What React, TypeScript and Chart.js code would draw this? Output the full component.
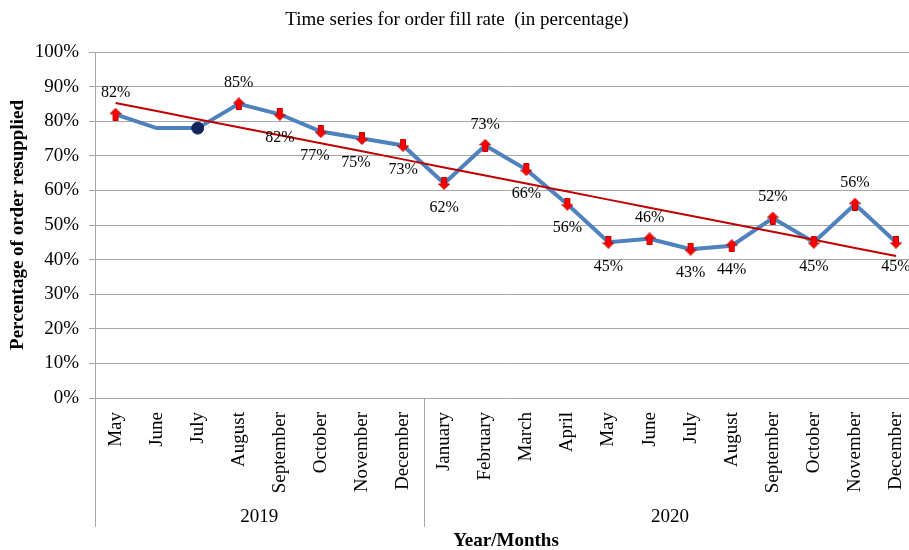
import { useEffect, useRef } from "react";
import { Chart, registerables } from "chart.js";
Chart.register(...registerables);

const months = [
  "May", "June", "July", "August", "September", "October", "November", "December",
  "January", "February", "March", "April", "May", "June", "July", "August",
  "September", "October", "November", "December",
];
const years = ["2019", "2020"];
const yearSpans = [8, 12];
const fillRate = [82, 78, 78, 85, 82, 77, 75, 73, 62, 73, 66, 56, 45, 46, 43, 44, 52, 45, 56, 45];
const markers = [
  "up", "none", "dot", "up", "down", "down", "down", "down", "down", "up",
  "down", "down", "down", "up", "down", "up", "up", "down", "up", "down",
];
const labelPos = [
  "above", "", "", "above", "below", "belowLeft", "belowLeft", "below", "below", "above",
  "below", "below", "below", "above", "below", "below", "above", "below", "above", "below",
];
const yTitle = "Percentage of order resupplied";
const xTitle = "Year/Months";
const chartTitle = "Time series for order fill rate  (in percentage)";

const FONT = "'Liberation Serif', 'Times New Roman', serif";
const GRID = "#a6a6a6";

function linearTrend(values: number[]): number[] {
  const n = values.length;
  const mx = (n - 1) / 2;
  const my = values.reduce((a, b) => a + b, 0) / n;
  let sxy = 0;
  let sxx = 0;
  values.forEach((v, i) => {
    sxy += (i - mx) * (v - my);
    sxx += (i - mx) * (i - mx);
  });
  const slope = sxy / sxx;
  return values.map((_, i) => my + slope * (i - mx));
}

function makeArrow(): HTMLCanvasElement {
  const c = document.createElement("canvas");
  c.width = 12;
  c.height = 13;
  const g = c.getContext("2d")!;
  g.beginPath();
  g.moveTo(6, 0.5);
  g.lineTo(11.5, 6);
  g.lineTo(8.5, 6);
  g.lineTo(8.5, 12.5);
  g.lineTo(3.5, 12.5);
  g.lineTo(3.5, 6);
  g.lineTo(0.5, 6);
  g.closePath();
  g.fillStyle = "#ff0000";
  g.fill();
  g.strokeStyle = "#c00000";
  g.lineWidth = 1;
  g.stroke();
  return c;
}

export default function App() {
  const ref = useRef<HTMLCanvasElement>(null);
  useEffect(() => {
    document.body.style.margin = "0";
    const arrow = makeArrow();
    const trend = linearTrend(fillRate);

    const overlay = {
      id: "overlay",
      afterDatasetsDraw(chart: any) {
        const ctx = chart.ctx;
        const meta = chart.getDatasetMeta(0);
        ctx.save();
        ctx.fillStyle = "#000";
        ctx.font = `16px ${FONT}`;
        ctx.textAlign = "center";
        ctx.textBaseline = "middle";
        meta.data.forEach((pt: any, i: number) => {
          const pos = labelPos[i];
          if (!pos) return;
          let dx = 0;
          const dy = pos === "above" ? -21 : 24;
          if (pos === "belowLeft") dx = -6;
          ctx.fillText(fillRate[i] + "%", pt.x + dx, pt.y + dy);
        });
        ctx.restore();
      },
      afterDraw(chart: any) {
        const ctx = chart.ctx;
        const xs = chart.scales.x;
        const area = chart.chartArea;
        ctx.save();
        ctx.fillStyle = "#000";
        ctx.font = `19px ${FONT}`;
        ctx.textAlign = "center";
        ctx.textBaseline = "middle";
        ctx.fillText(chartTitle, 457, 20);
        ctx.strokeStyle = GRID;
        ctx.lineWidth = 1;
        let start = 0;
        const bounds: number[] = [area.left];
        yearSpans.forEach((span, k) => {
          const end = start + span - 1;
          if (k < yearSpans.length - 1) {
            bounds.push((xs.getPixelForValue(end) + xs.getPixelForValue(end + 1)) / 2);
          }
          const cx = (xs.getPixelForValue(start) + xs.getPixelForValue(end)) / 2;
          ctx.fillText(years[k], cx, 517);
          start += span;
        });
        bounds.forEach((bx) => {
          const x = Math.round(bx) + 0.5;
          ctx.beginPath();
          ctx.moveTo(x, area.bottom);
          ctx.lineTo(x, 527);
          ctx.stroke();
        });
        ctx.font = `bold 19px ${FONT}`;
        ctx.fillText(xTitle, 506, 541);
        ctx.restore();
      },
    };

    const chart = new Chart(ref.current!, {
      type: "line",
      data: {
        labels: months,
        datasets: [
          {
            label: "markers",
            data: fillRate,
            showLine: false,
            pointStyle: (c: any) => {
              const m = markers[c.dataIndex];
              if (m === "dot") return "circle";
              if (m === "none") return false;
              return arrow;
            },
            pointRotation: (c: any) => (markers[c.dataIndex] === "down" ? 180 : 0),
            pointRadius: (c: any) => (markers[c.dataIndex] === "none" ? 0 : 6),
            pointBackgroundColor: "#10265a",
            pointBorderColor: "#10265a",
            pointBorderWidth: 1,
          },
          {
            label: "trend",
            data: trend,
            borderColor: "#c00000",
            borderWidth: 2,
            pointRadius: 0,
            fill: false,
          },
          {
            label: "fill rate",
            data: fillRate,
            borderColor: "#4f81bd",
            borderWidth: 4,
            pointRadius: 0,
            fill: false,
            tension: 0,
          },
        ],
      },
      options: {
        responsive: false,
        animation: false,
        layout: { padding: { left: 0, right: 2, top: 52, bottom: 0 } },
        plugins: {
          legend: { display: false },
          tooltip: { enabled: false },
          title: { display: false },
        },
        scales: {
          x: {
            offset: true,
            grid: { display: false },
            border: { display: false },
            ticks: {
              autoSkip: false,
              maxRotation: 90,
              minRotation: 90,
              padding: 6,
              color: "#000",
              font: { family: FONT, size: 19 },
            },
            afterFit: (s: any) => {
              s.height = 152;
            },
          },
          y: {
            min: 0,
            max: 100,
            ticks: {
              stepSize: 10,
              padding: 10,
              color: "#000",
              font: { family: FONT, size: 19 },
              callback: (v: any) => v + "%",
            },
            grid: { color: GRID, tickLength: 6 },
            border: { display: true, color: GRID },
            title: {
              display: true,
              text: yTitle,
              color: "#000",
              font: { family: FONT, size: 19, weight: "bold" },
              padding: { top: 7, bottom: 0 },
            },
            afterFit: (s: any) => {
              s.width = 95;
            },
          },
        },
      },
      plugins: [overlay],
    });
    return () => chart.destroy();
  }, []);
  return (
    <div style={{ width: 909, height: 550, overflow: "hidden" }}>
      <canvas ref={ref} width={925} height={550} />
    </div>
  );
}
